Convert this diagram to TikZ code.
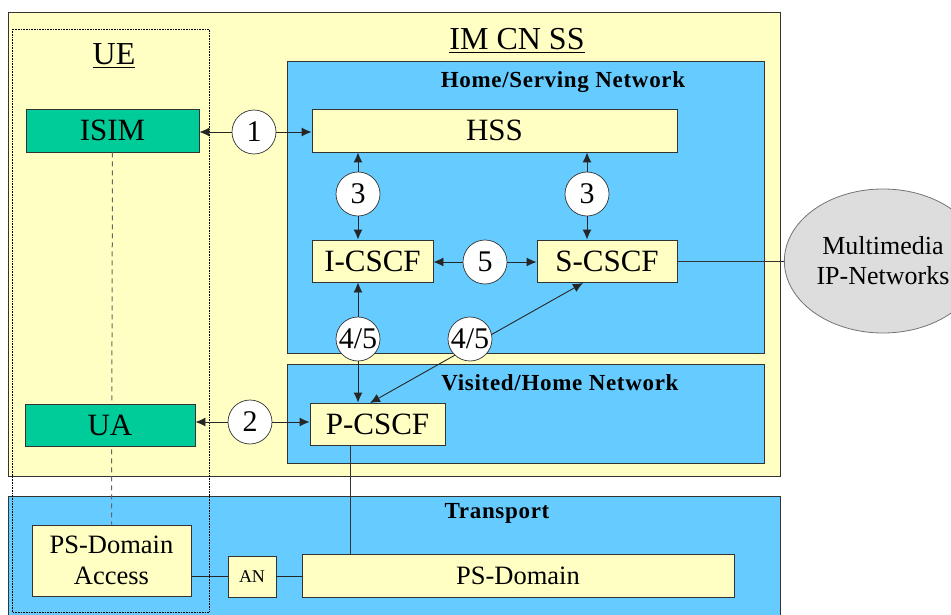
\documentclass[tikz,border=0pt]{standalone}
\usepackage{fontspec}
\setmainfont{Liberation Serif}
\usetikzlibrary{arrows.meta,shapes.geometric}
\definecolor{paleyellow}{HTML}{FFFFC4}
\definecolor{skyblue}{HTML}{66CCFF}
\definecolor{imsgreen}{HTML}{00CC99}
\definecolor{cloudgray}{HTML}{DDDDDD}
\definecolor{edge}{HTML}{333333}
\tikzset{
  fbox/.style={draw=edge, line width=0.9pt, fill=paleyellow, inner sep=0pt, font=\fontsize{31}{31}\selectfont},
  gbox/.style={draw=edge, line width=0.9pt, fill=imsgreen, inner sep=0pt, font=\fontsize{31}{31}\selectfont},
  numc/.style={circle, draw=edge, line width=0.7pt, fill=white, inner sep=0pt, minimum size=44pt, font=\fontsize{30}{30}\selectfont},
  arr/.style={-{Latex[length=10pt,width=9pt]}, line width=0.9pt, draw=black!85},
  plain/.style={line width=0.9pt, draw=black!80},
  hdr/.style={anchor=base, font=\bfseries\fontsize{23}{23}\selectfont\addfontfeatures{LetterSpace=3}},
  title/.style={anchor=base, font=\fontsize{32}{32}\selectfont}
}
\begin{document}
\begin{tikzpicture}[x=1pt,y=-1pt]
\useasboundingbox (0,0) rectangle (951,615);
% background regions
\draw[fill=paleyellow, draw=black!80, line width=0.9pt] (8,12) rectangle (780,476);
\draw[fill=skyblue, draw=black!80, line width=0.9pt] (8,496) rectangle (780,630);
\draw[fill=skyblue, draw=edge, line width=0.9pt] (287,61) rectangle (764,353);
\draw[fill=skyblue, draw=edge, line width=0.9pt] (287,364) rectangle (764,463);
\draw[densely dotted, line width=0.6pt] (12,29) rectangle (209,612);
% headers
\node[title] (ue) at (114,65) {\underline{UE}};
\node[title] (imcn) at (517,50) {\underline{IM CN SS}};
\node[hdr] (home) at (563,88) {Home/Serving Network};
\node[hdr] (visited) at (560,390) {Visited/Home Network};
\node[hdr] (transport) at (497,518) {Transport};
% boxes
\node[gbox, minimum width=173pt, minimum height=43pt] (ISIM) at (112.5,130.5) {ISIM};
\node[fbox, minimum width=159pt, minimum height=71pt, align=center, font=\fontsize{26.5}{31}\selectfont] (PSA) at (111.5,560.5) {PS-Domain\\Access};
% dashed UE link (passes behind UA)
\draw[dash pattern=on 5pt off 4pt, draw=black!60, line width=1pt] (ISIM.south) -- (PSA.north);
\node[gbox, minimum width=170pt, minimum height=42pt] (UA) at (110,425) {UA};
\node[fbox, minimum width=365pt, minimum height=43pt] (HSS) at (494.5,130.5) {HSS};
\node[fbox, minimum width=121pt, minimum height=42pt] (ICSCF) at (372.5,261) {I-CSCF};
\node[fbox, minimum width=140pt, minimum height=42pt] (SCSCF) at (607,261) {S-CSCF};
\node[fbox, minimum width=135pt, minimum height=42pt] (PCSCF) at (377.5,424) {P-CSCF};
\node[fbox, minimum width=48pt, minimum height=41pt, font=\fontsize{18}{18}\selectfont] (AN) at (252,576.5) {AN};
\node[fbox, minimum width=432pt, minimum height=43pt, font=\fontsize{26.5}{26.5}\selectfont] (PSD) at (518,575.5) {PS-Domain};
\node[ellipse, draw=black!55, line width=0.8pt, fill=cloudgray, minimum width=160pt, minimum height=144pt, align=center, font=\fontsize{26}{30}\selectfont] (MM) at (883,261) {Multimedia\\IP-Networks};
% numbered circles
\node[numc] (c1) at (254,132) {1};
\node[numc] (c2) at (250,422) {2};
\node[numc] (c3a) at (358,194) {3};
\node[numc] (c3b) at (587,194) {3};
\node[numc] (c5) at (485,262) {5};
\node[numc] (c45a) at (358,339) {4/5};
% end points of the diagonal 4/5 link
\coordinate (dtop) at (583,283);
\coordinate (dbot) at (370,403);
% connectors
\draw[arr] (c1) -- (c1 -| ISIM.east);
\draw[arr] (c1) -- (c1 -| HSS.west);
\draw[arr] (c2) -- (c2 -| UA.east);
\draw[arr] (c2) -- (c2 -| PCSCF.west);
\draw[arr] (c3a) -- (c3a |- HSS.south);
\draw[arr] (c3a) -- (c3a |- ICSCF.north);
\draw[arr] (c3b) -- (c3b |- HSS.south);
\draw[arr] (c3b) -- (c3b |- SCSCF.north);
\draw[arr] (c5) -- (c5 -| ICSCF.east);
\draw[arr] (c5) -- (c5 -| SCSCF.west);
\draw[arr] (c45a) -- (c45a |- ICSCF.south);
\draw[arr] (c45a) -- (c45a |- PCSCF.north);
\draw[arr, {Latex[length=10pt,width=9pt]}-{Latex[length=10pt,width=9pt]}] (dtop) -- (dbot);
\node[numc] (c45b) at (470,339) {4/5};
\draw[plain] (SCSCF.east) -- (MM.west);
\draw[plain] ([xshift=-27.5pt]PCSCF.south) -- ([xshift=-27.5pt]PCSCF.south |- PSD.north);
\draw[line width=1.6pt, draw=black!85] (AN.west -| PSA.east) -- (AN.west);
\draw[line width=1.6pt, draw=black!85] (AN.east) -- (AN.east -| PSD.west);
\end{tikzpicture}
\end{document}
